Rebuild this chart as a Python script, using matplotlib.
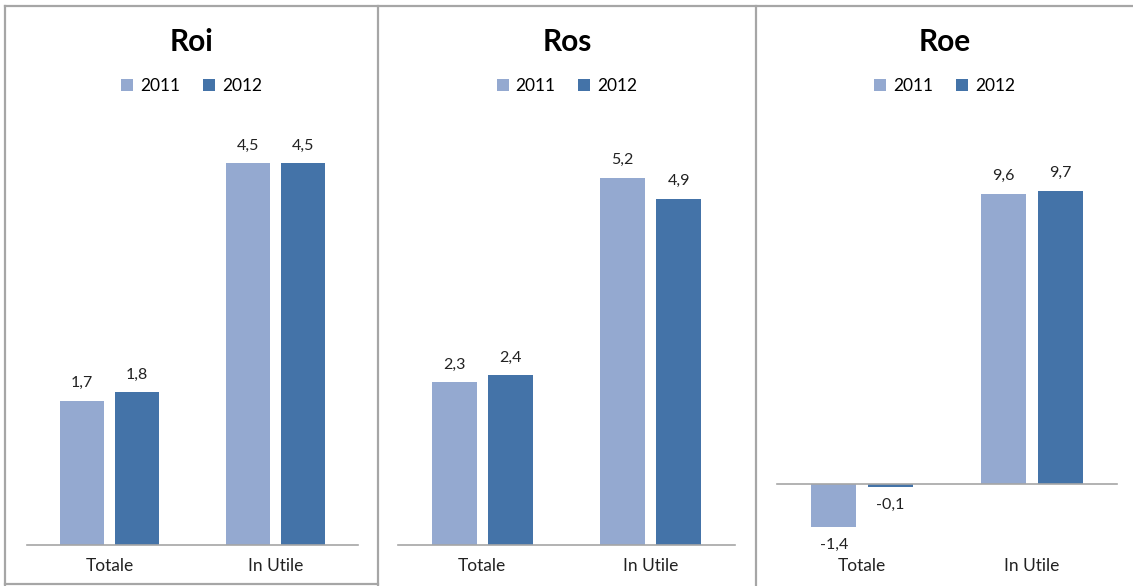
import numpy as np
import matplotlib
matplotlib.use('Agg')
import matplotlib.pyplot as plt
from matplotlib.patches import Patch
from matplotlib.lines import Line2D

plt.rcParams['font.family'] = ['Lato', 'DejaVu Sans']

categories = ['Totale', 'In Utile']
years = ['2011', '2012']
titles = ['Roi', 'Ros', 'Roe']
roi_2011 = [1.7, 4.5]
roi_2012 = [1.8, 4.5]
ros_2011 = [2.3, 5.2]
ros_2012 = [2.4, 4.9]
roe_2011 = [-1.4, 9.6]
roe_2012 = [-0.1, 9.7]
y_limits = [(0, 5), (0, 6), (-2, 12)]

C2011 = '#94a9d0'
C2012 = '#4473a8'
GRID = '#a6a6a6'
W, H = 1133, 586

fig = plt.figure(figsize=(W / 100, H / 100), dpi=100)

def fx(px):
    return px / W

def fy(py):
    return (H - py) / H

# panel borders
for x in [5, 378, 756]:
    fig.add_artist(Line2D([fx(x), fx(x)], [fy(6), fy(586)], color=GRID, lw=1.6))
fig.add_artist(Line2D([fx(5), fx(1133)], [fy(6), fy(6)], color=GRID, lw=1.6))
fig.add_artist(Line2D([fx(5), fx(378)], [fy(584), fy(584)], color=GRID, lw=1.6))

axes_px = [(27, 358), (398, 735), (777, 1117)]
panels_px = [(5, 378), (378, 756), (756, 1133)]
data = [(roi_2011, roi_2012), (ros_2011, ros_2012), (roe_2011, roe_2012)]

bw = 0.266
off = 0.166
x = np.arange(len(categories))

for i, (a, b) in enumerate(axes_px):
    ax = fig.add_axes([fx(a), fy(545), fx(b - a), fy(121) - fy(545)])
    s1, s2 = data[i]
    lo, hi = y_limits[i]
    rng = hi - lo
    for vals, dx, col in [(s1, -off, C2011), (s2, off, C2012)]:
        ax.bar(x + dx, vals, width=bw, color=col, zorder=2)
        for xi, v in zip(x + dx, vals):
            lab = ('%.1f' % v).replace('.', ',')
            if v >= 0:
                ax.text(xi, v + rng * 0.025, lab, ha='center', va='bottom', fontsize=11.5, color='#222222')
            else:
                ax.text(xi, v - rng * 0.025, lab, ha='center', va='top', fontsize=11.5, color='#222222')
    ax.axhline(0, color=GRID, lw=1.2, zorder=3, clip_on=False)
    ax.set_xlim(-0.5, 1.5)
    ax.set_ylim(lo, hi)
    ax.set_yticks([])
    ax.set_xticks([])
    for sp in ax.spines.values():
        sp.set_visible(False)
    for xi, c in zip(x, categories):
        fig.text(fx(a + (b - a) * (xi + 0.5) / 2), fy(566), c, ha='center', va='center', fontsize=12.5, color='#222222')

    pa, pb = panels_px[i]
    cx = fx((pa + pb) / 2)
    fig.text(cx, fy(42), titles[i], ha='center', va='center', fontsize=21.5, fontweight='bold', color='black')
    handles = [Patch(facecolor=C2011, label=years[0]), Patch(facecolor=C2012, label=years[1])]
    fig.legend(handles=handles, loc='center', bbox_to_anchor=(cx, fy(86)), ncol=2, frameon=False,
               fontsize=12.5, handlelength=0.7, handleheight=0.7, handletextpad=0.4, columnspacing=1.3)

fig.savefig('out.png', dpi=100)
